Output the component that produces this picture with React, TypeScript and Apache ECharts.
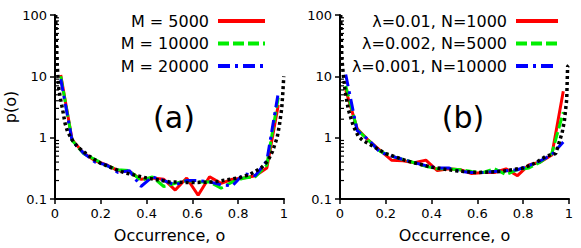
import React, { useEffect, useRef } from "react";
import * as echarts from "echarts";

const bins = [0.025, 0.075, 0.125, 0.175, 0.225, 0.275, 0.325, 0.375, 0.425, 0.475, 0.525, 0.575, 0.625, 0.675, 0.725, 0.775, 0.825, 0.875, 0.925, 0.975];

const namesA = ["M = 5000", "M = 10000", "M = 20000"];
const a5000 = [10.5, 0.92, 0.56, 0.42, 0.36, 0.29, 0.28, 0.21, 0.22, 0.21, 0.14, 0.22, 0.115, 0.23, 0.18, 0.21, 0.22, 0.24, 0.32, 3.4];
const a10000 = [10, 0.9, 0.55, 0.44, 0.35, 0.3, 0.29, 0.2, 0.23, 0.16, 0.18, 0.2, 0.19, 0.19, 0.15, 0.19, 0.22, 0.23, 0.36, 4.5];
const a20000 = [9, 0.88, 0.56, 0.4, 0.36, 0.27, 0.29, 0.16, 0.23, 0.2, 0.17, 0.2, 0.2, 0.19, 0.17, 0.165, 0.26, 0.24, 0.42, 5.4];

const namesB = ["λ=0.01, N=1000", "λ=0.002, N=5000", "λ=0.001, N=10000"];
const b1000 = [6, 1.4, 0.9, 0.62, 0.43, 0.42, 0.39, 0.43, 0.29, 0.31, 0.3, 0.26, 0.27, 0.27, 0.31, 0.24, 0.36, 0.4, 0.52, 5.7];
const b5000 = [7, 1.35, 0.9, 0.6, 0.5, 0.44, 0.39, 0.34, 0.31, 0.31, 0.3, 0.28, 0.27, 0.31, 0.25, 0.3, 0.32, 0.4, 0.55, 2.6];
const b10000 = [10.7, 1.3, 0.92, 0.58, 0.5, 0.44, 0.39, 0.35, 0.32, 0.32, 0.28, 0.27, 0.27, 0.28, 0.29, 0.3, 0.35, 0.42, 0.53, 0.85];

const theoryAx = [0.003, 0.006, 0.01, 0.015, 0.022, 0.033, 0.044, 0.055, 0.075, 0.1, 0.15, 0.2, 0.3, 0.4, 0.5, 0.6, 0.7, 0.8, 0.85, 0.9, 0.93, 0.95, 0.97, 0.98, 0.99, 0.995, 0.999];
const theoryAy = [100, 35, 15, 7, 4.7, 2.9, 1.7, 1.25, 0.92, 0.7, 0.5, 0.38, 0.27, 0.22, 0.19, 0.185, 0.19, 0.22, 0.25, 0.32, 0.42, 0.6, 1.0, 1.6, 3, 5.5, 10];

const theoryBx = [0.003, 0.008, 0.015, 0.022, 0.036, 0.058, 0.08, 0.1, 0.15, 0.2, 0.3, 0.4, 0.5, 0.6, 0.7, 0.8, 0.85, 0.9, 0.942, 0.97, 0.98, 0.99, 0.994, 0.999];
const theoryBy = [100, 20, 10, 6, 2.9, 1.55, 1.05, 0.9, 0.7, 0.55, 0.41, 0.33, 0.29, 0.27, 0.28, 0.32, 0.38, 0.5, 0.55, 1.2, 1.9, 4.2, 14.5, 15];

const xTicks = [0, 0.2, 0.4, 0.6, 0.8, 1];
const yTicks = [0.1, 1, 10, 100];
const minorTickValues = [0.2, 0.3, 0.4, 0.5, 0.6, 0.7, 0.8, 0.9, 2, 3, 4, 5, 6, 7, 8, 9, 20, 30, 40, 50, 60, 70, 80, 90];

const colors = ["#ff0000", "#00ee00", "#0000ff"];
const dashes: any[] = ["solid", [11, 4], [12, 5, 3, 5]];
const FONT = "DejaVu Sans";

export default function App() {
  const ref = useRef<HTMLDivElement>(null);
  useEffect(() => {
    document.body.style.margin = "0";
    const chart = echarts.init(ref.current!, null, { renderer: "svg" });
    const pair = (xs: number[], ys: number[]) => xs.map((x, i) => [x, ys[i]]);

    const xAxisBase = (gridIndex: number) => ({
      type: "value",
      gridIndex,
      min: 0,
      max: 1,
      interval: 0.2,
      name: "Occurrence, o",
      nameLocation: "middle",
      nameGap: 28,
      nameTextStyle: { fontFamily: FONT, fontSize: 16, color: "#000" },
      axisLine: { lineStyle: { color: "#000", width: 2 } },
      axisTick: { show: true, length: 5, lineStyle: { color: "#000", width: 1.5 } },
      axisLabel: {
        fontFamily: FONT,
        fontSize: 13,
        color: "#000",
        margin: 8,
        showMinLabel: true,
        showMaxLabel: true,
        formatter: (v: number) => {
          const r = Math.round(v * 10) / 10;
          return xTicks.includes(r) ? String(r) : "";
        },
      },
      splitLine: { show: false },
    });
    const yAxisBase = (gridIndex: number, withName: boolean) => ({
      type: "log",
      logBase: 10,
      gridIndex,
      min: yTicks[0],
      max: yTicks[yTicks.length - 1],
      name: withName ? "p(o)" : "",
      nameLocation: "middle",
      nameRotate: 90,
      nameGap: 33,
      nameTextStyle: { fontFamily: FONT, fontSize: 16, color: "#000" },
      axisLine: { show: true, lineStyle: { color: "#000", width: 2 } },
      axisTick: { show: true, length: 5, lineStyle: { color: "#000", width: 1.5 } },
      axisLabel: { fontFamily: FONT, fontSize: 13, color: "#000", margin: 8 },
      splitLine: { show: false },
    });

    const dataSeries = (names: string[], sets: number[][], axis: number) =>
      sets.map((s, i) => ({
        type: "line",
        name: names[i],
        xAxisIndex: axis,
        yAxisIndex: axis,
        data: pair(bins, s),
        showSymbol: false,
        symbol: "none",
        lineStyle: { color: colors[i], width: 3, type: dashes[i] },
        itemStyle: { color: colors[i] },
        z: 3,
      }));

    const theorySeries = (xs: number[], ys: number[], axis: number) => ({
      type: "line",
      name: "theory" + axis,
      xAxisIndex: axis,
      yAxisIndex: axis,
      data: pair(xs, ys),
      showSymbol: false,
      symbol: "none",
      clip: true,
      lineStyle: { color: "#000", width: 3.5, type: [3, 3] },
      z: 4,
    });

    const minorSeries = (axis: number) => ({
      type: "custom",
      xAxisIndex: axis,
      yAxisIndex: axis,
      silent: true,
      clip: false,
      data: minorTickValues.map((v) => [0, v]),
      renderItem: (params: any, api: any) => {
        const p = api.coord([0, api.value(1)]);
        return {
          type: "line",
          shape: { x1: p[0], y1: p[1], x2: p[0] + 4, y2: p[1] },
          style: { stroke: "#000", lineWidth: 1.2 },
        };
      },
      z: 5,
    });

    const legendBase = (names: string[], right: number, itemWidth: number) => ({
      data: names,
      orient: "vertical",
      right,
      top: 13,
      padding: 0,
      align: "right",
      itemWidth,
      itemHeight: 14,
      itemGap: 6.5,
      itemStyle: { opacity: 0 },
      lineStyle: { width: 4 },
      textStyle: { fontFamily: FONT, fontSize: 16, color: "#000", padding: [0, 4, 0, 0] },
      selectedMode: false,
    });

    chart.setOption({
      animation: false,
      grid: [
        { left: 55, right: 297, top: 15, bottom: 48 },
        { left: 340, right: 12, top: 15, bottom: 48 },
      ],
      xAxis: [xAxisBase(0), xAxisBase(1)],
      yAxis: [yAxisBase(0, true), yAxisBase(1, false)],
      legend: [legendBase(namesA, 314, 47), legendBase(namesB, 21, 42)],
      graphic: [
        { type: "text", x: 174, y: 117, style: { text: "(a)", font: `30px "${FONT}"`, fill: "#000", textAlign: "center", textVerticalAlign: "middle" } },
        { type: "text", x: 463, y: 117, style: { text: "(b)", font: `30px "${FONT}"`, fill: "#000", textAlign: "center", textVerticalAlign: "middle" } },
      ],
      series: [
        ...dataSeries(namesA, [a5000, a10000, a20000], 0),
        ...dataSeries(namesB, [b1000, b5000, b10000], 1),
        theorySeries(theoryAx, theoryAy, 0),
        theorySeries(theoryBx, theoryBy, 1),
        minorSeries(0),
        minorSeries(1),
      ],
    });
    return () => chart.dispose();
  }, []);
  return <div ref={ref} style={{ width: 581, height: 248 }} />;
}
